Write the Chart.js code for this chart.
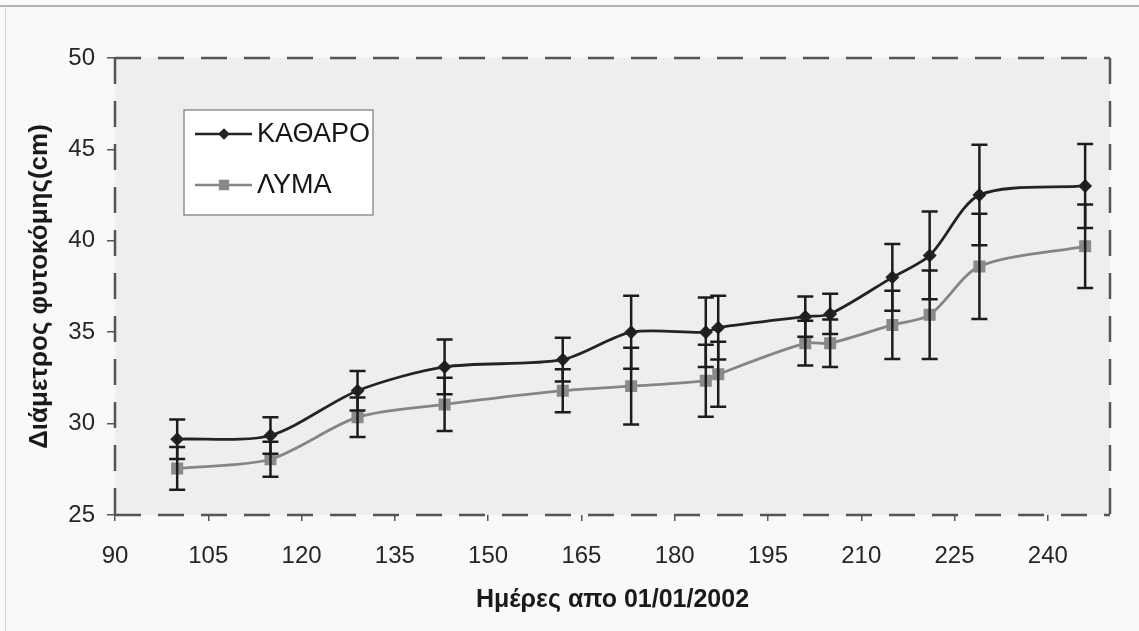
<!DOCTYPE html>
<html lang="el">
<head>
<meta charset="utf-8">
<title>Διάμετρος φυτοκόμης</title>
<script src="https://cdn.jsdelivr.net/npm/chart.js@4.4.1/dist/chart.umd.min.js"></script>
<style>
  html, body { margin: 0; padding: 0; background: #f9f9f8; }
  #wrap { position: relative; width: 1139px; height: 631px; }
</style>
</head>
<body>
<div id="wrap"><canvas id="diamChart" width="1139" height="631"></canvas></div>
<script>
// ημέρες μέτρησης (από 01/01/2002)
const days = [100, 115, 129, 143, 162, 173, 185, 187, 201, 205, 215, 221, 229, 246];

// ΚΑΘΑΡΟ: μέση διάμετρος και σφάλμα
const katharo    = [29.15, 29.35, 31.8, 33.1, 33.5, 35.0, 35.0, 35.25, 35.85, 36.0, 38.0, 39.2, 42.5, 43.0];
const katharoErr = [1.08, 1.0, 1.08, 1.5, 1.2, 2.0, 1.9, 1.75, 1.1, 1.1, 1.82, 2.4, 2.75, 2.3];

// ΛΥΜΑ: μέση διάμετρος και σφάλμα
const lyma    = [27.55, 28.05, 30.35, 31.05, 31.8, 32.05, 32.35, 32.7, 34.4, 34.4, 35.4, 35.95, 38.6, 39.7];
const lymaErr = [1.17, 0.96, 1.08, 1.46, 1.18, 2.1, 1.97, 1.78, 1.22, 1.3, 1.87, 2.42, 2.88, 2.28];

const xTicks = [90, 105, 120, 135, 150, 165, 180, 195, 210, 225, 240];
const yTicks = [25, 30, 35, 40, 45, 50];

Chart.defaults.font.family = "'Liberation Sans', Arial, sans-serif";
Chart.defaults.color = '#222';

const toPoints = vals => vals.map((v, i) => ({ x: days[i], y: v }));

// φόντο, πλαίσιο σάρωσης και γκρι περιοχή σχεδίασης
const backdrop = {
    id: 'backdrop',
    beforeDraw(chart) {
        const { ctx, chartArea: a } = chart;
        ctx.save();
        ctx.fillStyle = '#f9f9f8';
        ctx.fillRect(0, 0, chart.width, chart.height);
        ctx.strokeStyle = '#9a9a9a';
        ctx.lineWidth = 1.5;
        ctx.beginPath();
        ctx.moveTo(0, 6); ctx.lineTo(chart.width, 6);
        ctx.stroke();
        ctx.strokeStyle = '#d4d4d4';
        ctx.lineWidth = 1;
        ctx.beginPath();
        ctx.moveTo(5.5, 6); ctx.lineTo(5.5, chart.height);
        ctx.stroke();
        ctx.fillStyle = '#eeeeec';
        ctx.fillRect(a.left, a.top, a.right - a.left, a.bottom - a.top);
        ctx.restore();
    }
};

// διακεκομμένο περίγραμμα γύρω από την περιοχή σχεδίασης
const dashedFrame = {
    id: 'dashedFrame',
    beforeDatasetsDraw(chart) {
        const { ctx, chartArea: a } = chart;
        ctx.save();
        ctx.strokeStyle = '#555';
        ctx.lineWidth = 2.5;
        ctx.setLineDash([26, 17]);
        const side = (x1, y1, x2, y2) => {
            ctx.beginPath(); ctx.moveTo(x1, y1); ctx.lineTo(x2, y2); ctx.stroke();
        };
        side(a.left, a.top, a.right, a.top);
        side(a.right, a.top, a.right, a.bottom);
        side(a.left, a.bottom, a.right, a.bottom);
        side(a.left, a.top, a.left, a.bottom);
        ctx.restore();
    }
};

// μπάρες σφάλματος (±) για κάθε σειρά
const errorBars = {
    id: 'errorBars',
    afterDatasetsDraw(chart) {
        const { ctx, scales: { x, y } } = chart;
        ctx.save();
        ctx.strokeStyle = '#1c1c1c';
        ctx.lineWidth = 2.5;
        chart.data.datasets.forEach(ds => {
            ds.data.forEach((p, i) => {
                const e = ds.errors[i];
                const px = x.getPixelForValue(p.x);
                const top = y.getPixelForValue(p.y + e);
                const bot = y.getPixelForValue(p.y - e);
                ctx.beginPath();
                ctx.moveTo(px, top); ctx.lineTo(px, bot);
                ctx.moveTo(px - 8, top); ctx.lineTo(px + 8, top);
                ctx.moveTo(px - 8, bot); ctx.lineTo(px + 8, bot);
                ctx.stroke();
            });
        });
        ctx.restore();
    }
};

// υπόμνημα μέσα στην περιοχή σχεδίασης
const boxLegend = {
    id: 'boxLegend',
    afterDraw(chart) {
        const { ctx, chartArea: a } = chart;
        const bx = a.left + 69, by = a.top + 52, bw = 189, bh = 105;
        ctx.save();
        ctx.fillStyle = '#ffffff';
        ctx.fillRect(bx, by, bw, bh);
        ctx.strokeStyle = '#777';
        ctx.lineWidth = 1.2;
        ctx.strokeRect(bx, by, bw, bh);
        ctx.font = "27px 'Liberation Sans', Arial, sans-serif";
        ctx.textBaseline = 'middle';
        chart.data.datasets.forEach((ds, i) => {
            const cy = by + 24 + i * 51;
            ctx.strokeStyle = ds.borderColor;
            ctx.lineWidth = 2.5;
            ctx.beginPath();
            ctx.moveTo(bx + 11, cy); ctx.lineTo(bx + 68, cy);
            ctx.stroke();
            ctx.fillStyle = ds.pointBackgroundColor;
            ctx.strokeStyle = ds.pointBorderColor;
            Chart.helpers.drawPoint(ctx, {
                pointStyle: ds.pointStyle, radius: ds.pointRadius - 1, borderWidth: 1, rotation: 0
            }, bx + 40, cy);
            ctx.fillStyle = '#161616';
            ctx.fillText(ds.label, bx + 73, cy + 1);
        });
        ctx.restore();
    }
};

new Chart(document.getElementById('diamChart').getContext('2d'), {
    type: 'line',
    data: {
        datasets: [{
            label: 'ΚΑΘΑΡΟ',
            data: toPoints(katharo),
            errors: katharoErr,
            borderColor: '#232323',
            borderWidth: 2.8,
            pointStyle: 'rectRot',
            pointRadius: 5,
            pointBackgroundColor: '#232323',
            pointBorderColor: '#232323',
            tension: 0.28,
            fill: false
        }, {
            label: 'ΛΥΜΑ',
            data: toPoints(lyma),
            errors: lymaErr,
            borderColor: '#858585',
            borderWidth: 2.8,
            pointStyle: 'rect',
            pointRadius: 6.5,
            pointBackgroundColor: '#8a8a8a',
            pointBorderColor: '#8a8a8a',
            tension: 0.28,
            fill: false
        }]
    },
    options: {
        responsive: false,
        animation: false,
        layout: { padding: { top: 58, right: 29, left: 0, bottom: 0 } },
        plugins: {
            legend: { display: false },
            tooltip: { enabled: false }
        },
        scales: {
            x: {
                type: 'linear',
                min: 90,
                max: 250,
                afterBuildTicks: scale => { scale.ticks = xTicks.map(v => ({ value: v })); },
                afterFit: scale => { scale.height = 116; },
                border: { display: false },
                grid: { drawOnChartArea: false, drawTicks: true, tickLength: 6, color: '#555', lineWidth: 1.5 },
                ticks: { font: { size: 24 }, padding: 21, color: '#262626', maxRotation: 0, autoSkip: false },
                title: {
                    display: true,
                    text: 'Ημέρες απο 01/01/2002',
                    font: { size: 25, weight: 'bold' },
                    color: '#1a1a1a',
                    padding: { top: 0, bottom: 16 }
                }
            },
            y: {
                min: 25,
                max: 50,
                afterBuildTicks: scale => { scale.ticks = yTicks.map(v => ({ value: v })); },
                afterFit: scale => { scale.width = 115; },
                border: { display: false },
                grid: { drawOnChartArea: false, drawTicks: true, tickLength: 8, color: '#555', lineWidth: 1.5 },
                ticks: { font: { size: 24 }, padding: 12, color: '#262626' },
                title: {
                    display: true,
                    text: 'Διάμετρος φυτοκόμης(cm)',
                    font: { size: 26, weight: 'bold' },
                    color: '#1a1a1a',
                    padding: { top: 24, bottom: 0 }
                }
            }
        }
    },
    plugins: [backdrop, dashedFrame, errorBars, boxLegend]
});
</script>
</body>
</html>
